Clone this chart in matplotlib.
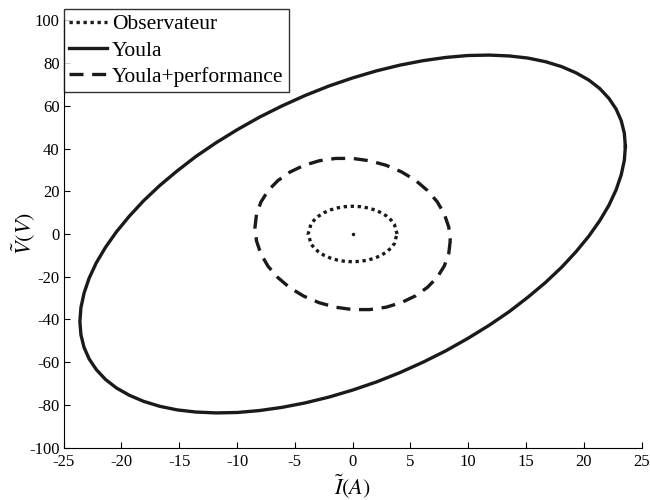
import matplotlib
matplotlib.use("Agg")
import matplotlib.pyplot as plt

# Observateur (dotted)
obs_x = [3.85, 3.72, 3.62, 3.33, 2.95, 2.48, 1.93, 1.32, 0.67, 0.0, -0.67, -1.32, -1.93,
         -2.48, -2.95, -3.33, -3.62, -3.72, -3.85, -3.72, -3.62, -3.33, -2.95, -2.48,
         -1.93, -1.32, -0.67, 0.0, 0.67, 1.32, 1.93, 2.48, 2.95, 3.33, 3.62, 3.72, 3.85]
obs_y = [0.0, 2.26, 4.45, 6.5, 8.36, 9.96, 11.26, 12.22, 12.8, 13.0, 12.8, 12.22, 11.26,
         9.96, 8.36, 6.5, 4.45, 2.26, 0.0, -2.26, -4.45, -6.5, -8.36, -9.96,
         -11.26, -12.22, -12.8, -13.0, -12.8, -12.22, -11.26, -9.96, -8.36, -6.5, -4.45, -2.26, 0.0]

# Youla (solid)
youla_x = [23.6, 23.51, 23.24, 22.80, 22.18, 21.39, 20.44, 19.33, 18.08, 16.69, 15.17, 13.54,
           11.8, 9.97, 8.07, 6.11, 4.10, 2.06, 0.0, -2.06, -4.10, -6.11, -8.07, -9.97,
           -11.8, -13.54, -15.17, -16.69, -18.08, -19.33, -20.44, -21.39, -22.18, -22.80, -23.24, -23.51,
           -23.6, -23.51, -23.24, -22.80, -22.18, -21.39, -20.44, -19.33, -18.08, -16.69, -15.17, -13.54,
           -11.8, -9.97, -8.07, -6.11, -4.10, -2.06, 0.0, 2.06, 4.10, 6.11, 8.07, 9.97,
           11.8, 13.54, 15.17, 16.69, 18.08, 19.33, 20.44, 21.39, 22.18, 22.80, 23.24, 23.51, 23.6]
youla_y = [41.0, 34.5, 27.7, 20.7, 13.5, 6.3, -1.0, -8.3, -15.6, -22.7, -29.6, -36.4,
           -42.8, -48.9, -54.7, -60.0, -64.9, -69.3, -73.1, -76.4, -79.1, -81.2, -82.7, -83.6,
           -83.8, -83.4, -82.4, -80.7, -78.4, -75.5, -72.1, -68.1, -63.5, -58.5, -53.1, -47.2,
           -41.0, -34.5, -27.7, -20.7, -13.5, -6.3, 1.0, 8.3, 15.6, 22.7, 29.6, 36.4,
           42.8, 48.9, 54.7, 60.0, 64.9, 69.3, 73.1, 76.4, 79.1, 81.2, 82.7, 83.6,
           83.8, 83.4, 82.4, 80.7, 78.4, 75.5, 72.1, 68.1, 63.5, 58.5, 53.1, 47.2, 41.0]

# Youla+performance (dashed)
perf_x = [8.45, 8.32, 7.94, 7.32, 6.47, 5.43, 4.23, 2.89, 1.47, 0.0, -1.47, -2.89,
          -4.23, -5.43, -6.47, -7.32, -7.94, -8.32, -8.45, -8.32, -7.94, -7.32, -6.47, -5.43,
          -4.23, -2.89, -1.47, 0.0, 1.47, 2.89, 4.23, 5.43, 6.47, 7.32, 7.94, 8.32, 8.45]
perf_y = [-3.0, -9.1, -14.9, -20.3, -25.0, -29.0, -32.1, -34.3, -35.4, -35.4, -34.3, -32.2,
          -29.1, -25.2, -20.4, -15.1, -9.3, -3.2, 3.0, 9.1, 14.9, 20.3, 25.0, 29.0,
          32.1, 34.3, 35.4, 35.4, 34.3, 32.2, 29.1, 25.2, 20.4, 15.1, 9.3, 3.2, -3.0]

x_ticks = [-25, -20, -15, -10, -5, 0, 5, 10, 15, 20, 25]
y_ticks = [-100, -80, -60, -40, -20, 0, 20, 40, 60, 80, 100]

plt.rcParams['font.family'] = ['Liberation Serif', 'DejaVu Serif']
plt.rcParams['mathtext.fontset'] = 'stix'
plt.rcParams['axes.unicode_minus'] = False

fig = plt.figure(figsize=(6.5, 5), dpi=100)
ax = fig.add_axes([0.098, 0.105, 0.889, 0.854])

c = '#1a1a1a'
ax.plot(obs_x, obs_y, color=c, lw=2.4, linestyle=(0, (1, 1.1)), label='Observateur')
ax.plot(youla_x, youla_y, color=c, lw=2.4, label='Youla')
ax.plot(perf_x, perf_y, color=c, lw=2.4, linestyle=(0, (4.2, 2.6)), label='Youla+performance')
ax.plot([0], [0], 'o', color=c, ms=1.5)

ax.set_xlim(-25, 25)
ax.set_ylim(-100, 100)
ax.set_xticks(x_ticks)
ax.set_yticks(y_ticks)
ax.spines['top'].set_visible(False)
ax.spines['right'].set_visible(False)
ax.tick_params(direction='in', length=4, width=0.8, labelsize=12, pad=2)
ax.tick_params(axis='x', pad=5)
ax.tick_params(axis='y', pad=3)

ax.set_xlabel(r'$\tilde{I}(A)$', fontsize=16, labelpad=1)
ax.set_ylabel(r'$\tilde{V}(V)$', fontsize=16)
ax.yaxis.set_label_coords(-0.046, 0.5)

leg = ax.legend(loc='upper left', bbox_to_anchor=(0.098, 0.982),
                bbox_transform=fig.transFigure, fontsize=15.5, frameon=True,
                fancybox=False, edgecolor='black', handlelength=1.75,
                handletextpad=0.25, borderpad=0.25, labelspacing=0.28,
                borderaxespad=0)
leg.get_frame().set_linewidth(1.0)

fig.savefig('out.png', dpi=100)
